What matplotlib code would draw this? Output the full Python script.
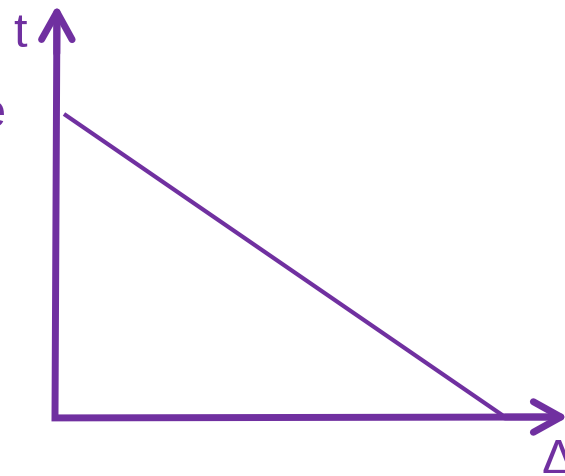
import matplotlib
matplotlib.use('Agg')
import matplotlib.pyplot as plt

# 数据：直线两端点（坐标轴单位，原点在两轴交点）
line_x = [0.02, 1.0]
line_y = [1.0, 0.0]

# 坐标轴标签
y_label = "t"
left_label = "e"
x_label = "Δ"

purple = "#7030A0"

fig = plt.figure(figsize=(5.65, 4.77), dpi=100)
ax = fig.add_axes([0, 0, 1, 1])
ax.set_xlim(-0.1222, 1.1333)
ax.set_ylim(-0.1947, 1.3795)
ax.axis('off')

# 坐标轴（直角拐角）
ax.plot([0.0042, 0, 1.10], [1.30, -0.003, 0.0], color=purple, lw=5,
        solid_joinstyle='miter', solid_capstyle='butt', clip_on=False)

# 箭头
arrow = dict(arrowstyle='->,head_length=0.9,head_width=0.5', lw=5, color=purple,
             mutation_scale=22, shrinkA=0, shrinkB=0, capstyle='round', joinstyle='round')
ax.annotate('', xy=(0.0044, 1.36), xytext=(0.0040, 1.2), arrowprops=arrow,
            annotation_clip=False)
ax.annotate('', xy=(1.14, 0.0), xytext=(1.0, 0.0), arrowprops=arrow,
            annotation_clip=False)

# 直线
ax.plot(line_x, line_y, color=purple, lw=3, solid_capstyle='butt')

# 文字
ax.text(-0.078, 1.264, y_label, color=purple, fontsize=35, family='Liberation Sans',
        ha='center', va='center')
ax.text(-0.109, 1.0, left_label, color=purple, fontsize=35, family='Liberation Sans',
        ha='right', va='center')
ax.text(1.08, -0.066, x_label, color=purple, fontsize=35, family='Liberation Sans',
        ha='left', va='top')

fig.savefig('out.png', dpi=100)
